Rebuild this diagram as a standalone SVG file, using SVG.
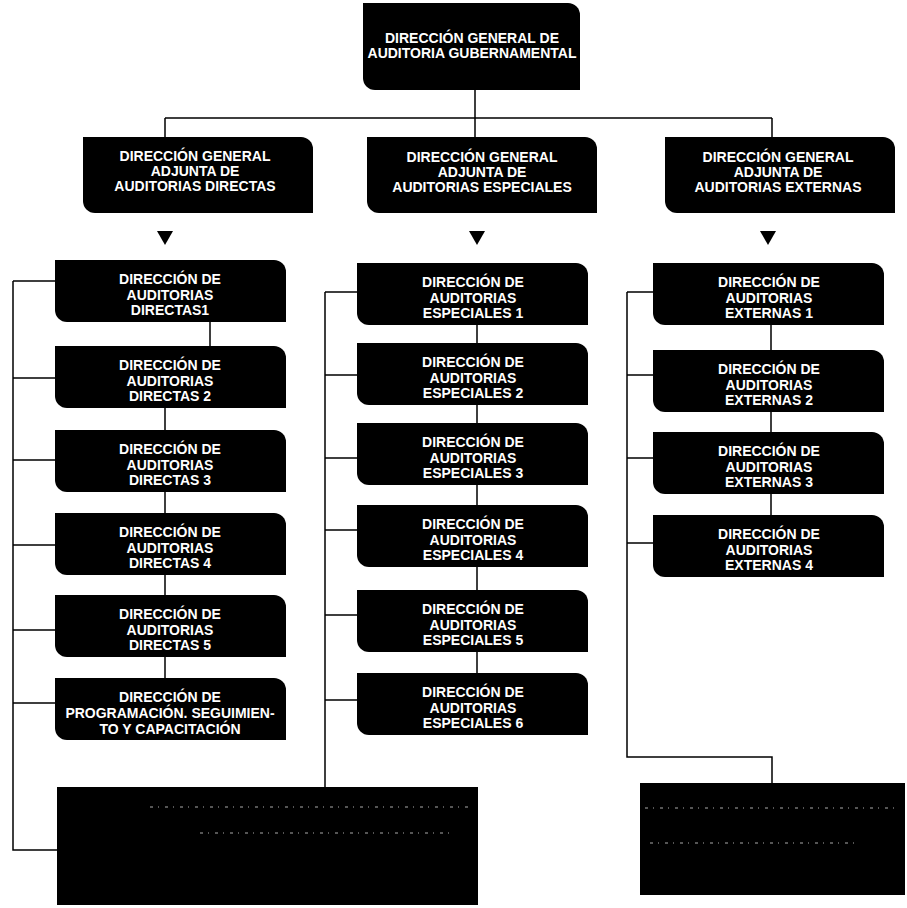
<svg xmlns="http://www.w3.org/2000/svg" xmlns:xlink="http://www.w3.org/1999/xlink" width="907" height="908" viewBox="0 0 907 908">
<style>
.bg{fill:#fff}
.box{fill:#000}
.t{font-family:"Liberation Sans",Arial,sans-serif;font-weight:bold;font-size:14px;fill:#fff;text-anchor:middle}
.c{fill:none;stroke:#000;stroke-width:1.5}
.arr{fill:#000}
.noise{fill:none;stroke:#555;stroke-width:2;stroke-dasharray:3 5 1 6}
</style>
<defs>
<path id="b1" d="M0,0 h205 a12,12 0 0 1 12,12 v75 h-205 a12,12 0 0 1 -12,-12 z"/>
<path id="b2" d="M0,0 h218 a12,12 0 0 1 12,12 v64 h-218 a12,12 0 0 1 -12,-12 z"/>
<path id="b3" d="M0,0 h219 a12,12 0 0 1 12,12 v50 h-219 a12,12 0 0 1 -12,-12 z"/>
</defs>
<rect class="bg" x="0" y="0" width="907" height="908"/>

<g id="connectors">
<path class="c" d="M475,90 V118 M165,118 H772 M165,118 V137 M475,118 V137 M772,118 V137"/>
<path class="c" d="M210,322 V346 M165,408 V430 M165,492 V513 M165,575 V595 M165,657 V678"/>
<path class="c" d="M13,281 V850 H57 M13,281 H55 M13,378 H55 M13,460 H55 M13,545 H55 M13,630 H55 M13,703 H55"/>
<path class="c" d="M477,325 V343 M477,405 V423 M477,485 V505 M477,567 V590 M477,652 V673"/>
<path class="c" d="M325,292 V787 M325,292 H357 M325,375 H357 M325,458 H357 M325,530 H357 M325,615 H357 M325,700 H357"/>
<path class="c" d="M771,325 V350 M771,412 V432 M771,494 V515"/>
<path class="c" d="M627,292 V757 H772 V783 M627,292 H653 M627,375 H653 M627,458 H653 M627,543 H653"/>
<polygon class="arr" points="157,231 173,231 165,245"/>
<polygon class="arr" points="469,231 485,231 477,245"/>
<polygon class="arr" points="760,231 776,231 768,245"/>
</g>

<g id="n-dgag">
<use href="#b1" x="363" y="3" class="box"/>
<text class="t" x="472" y="43">DIRECCIÓN GENERAL DE</text>
<text class="t" x="472" y="58">AUDITORIA GUBERNAMENTAL</text>
</g>

<g id="n-dgad">
<use href="#b2" x="83" y="137" class="box"/>
<text class="t" x="195" y="161">DIRECCIÓN GENERAL</text>
<text class="t" x="195" y="176">ADJUNTA DE</text>
<text class="t" x="195" y="191">AUDITORIAS DIRECTAS</text>
</g>
<g id="n-dgae">
<use href="#b2" x="367" y="137" class="box"/>
<text class="t" x="482" y="162">DIRECCIÓN GENERAL</text>
<text class="t" x="482" y="177">ADJUNTA DE</text>
<text class="t" x="482" y="192">AUDITORIAS ESPECIALES</text>
</g>
<g id="n-dgax">
<use href="#b2" x="665" y="137" class="box"/>
<text class="t" x="778" y="162">DIRECCIÓN GENERAL</text>
<text class="t" x="778" y="177">ADJUNTA DE</text>
<text class="t" x="778" y="192">AUDITORIAS EXTERNAS</text>
</g>

<g id="n-d1">
<use href="#b3" x="55" y="260" class="box"/>
<text class="t" x="170" y="284">DIRECCIÓN DE</text>
<text class="t" x="170" y="300">AUDITORIAS</text>
<text class="t" x="170" y="315">DIRECTAS1</text>
</g>
<g id="n-d2">
<use href="#b3" x="55" y="346" class="box"/>
<text class="t" x="170" y="370">DIRECCIÓN DE</text>
<text class="t" x="170" y="386">AUDITORIAS</text>
<text class="t" x="170" y="401">DIRECTAS 2</text>
</g>
<g id="n-d3">
<use href="#b3" x="55" y="430" class="box"/>
<text class="t" x="170" y="454">DIRECCIÓN DE</text>
<text class="t" x="170" y="470">AUDITORIAS</text>
<text class="t" x="170" y="485">DIRECTAS 3</text>
</g>
<g id="n-d4">
<use href="#b3" x="55" y="513" class="box"/>
<text class="t" x="170" y="537">DIRECCIÓN DE</text>
<text class="t" x="170" y="553">AUDITORIAS</text>
<text class="t" x="170" y="568">DIRECTAS 4</text>
</g>
<g id="n-d5">
<use href="#b3" x="55" y="595" class="box"/>
<text class="t" x="170" y="619">DIRECCIÓN DE</text>
<text class="t" x="170" y="635">AUDITORIAS</text>
<text class="t" x="170" y="650">DIRECTAS 5</text>
</g>
<g id="n-dp">
<use href="#b3" x="55" y="678" class="box"/>
<text class="t" x="170" y="702">DIRECCIÓN DE</text>
<text class="t" x="170" y="718">PROGRAMACIÓN. SEGUIMIEN-</text>
<text class="t" x="170" y="734">TO Y CAPACITACIÓN</text>
</g>

<g id="n-e1">
<use href="#b3" x="357" y="263" class="box"/>
<text class="t" x="473" y="287">DIRECCIÓN DE</text>
<text class="t" x="473" y="303">AUDITORIAS</text>
<text class="t" x="473" y="318">ESPECIALES 1</text>
</g>
<g id="n-e2">
<use href="#b3" x="357" y="343" class="box"/>
<text class="t" x="473" y="367">DIRECCIÓN DE</text>
<text class="t" x="473" y="383">AUDITORIAS</text>
<text class="t" x="473" y="398">ESPECIALES 2</text>
</g>
<g id="n-e3">
<use href="#b3" x="357" y="423" class="box"/>
<text class="t" x="473" y="447">DIRECCIÓN DE</text>
<text class="t" x="473" y="463">AUDITORIAS</text>
<text class="t" x="473" y="478">ESPECIALES 3</text>
</g>
<g id="n-e4">
<use href="#b3" x="357" y="505" class="box"/>
<text class="t" x="473" y="529">DIRECCIÓN DE</text>
<text class="t" x="473" y="545">AUDITORIAS</text>
<text class="t" x="473" y="560">ESPECIALES 4</text>
</g>
<g id="n-e5">
<use href="#b3" x="357" y="590" class="box"/>
<text class="t" x="473" y="614">DIRECCIÓN DE</text>
<text class="t" x="473" y="630">AUDITORIAS</text>
<text class="t" x="473" y="645">ESPECIALES 5</text>
</g>
<g id="n-e6">
<use href="#b3" x="357" y="673" class="box"/>
<text class="t" x="473" y="697">DIRECCIÓN DE</text>
<text class="t" x="473" y="713">AUDITORIAS</text>
<text class="t" x="473" y="728">ESPECIALES 6</text>
</g>

<g id="n-x1">
<use href="#b3" x="653" y="263" class="box"/>
<text class="t" x="769" y="287">DIRECCIÓN DE</text>
<text class="t" x="769" y="303">AUDITORIAS</text>
<text class="t" x="769" y="318">EXTERNAS 1</text>
</g>
<g id="n-x2">
<use href="#b3" x="653" y="350" class="box"/>
<text class="t" x="769" y="374">DIRECCIÓN DE</text>
<text class="t" x="769" y="390">AUDITORIAS</text>
<text class="t" x="769" y="405">EXTERNAS 2</text>
</g>
<g id="n-x3">
<use href="#b3" x="653" y="432" class="box"/>
<text class="t" x="769" y="456">DIRECCIÓN DE</text>
<text class="t" x="769" y="472">AUDITORIAS</text>
<text class="t" x="769" y="487">EXTERNAS 3</text>
</g>
<g id="n-x4">
<use href="#b3" x="653" y="515" class="box"/>
<text class="t" x="769" y="539">DIRECCIÓN DE</text>
<text class="t" x="769" y="555">AUDITORIAS</text>
<text class="t" x="769" y="570">EXTERNAS 4</text>
</g>

<g id="n-bottom-left">
<rect class="box" x="57" y="787" width="421" height="118"/>
<path class="noise" d="M150,807 H470 M200,833 H450"/>
</g>
<g id="n-bottom-right">
<rect class="box" x="640" y="783" width="265" height="112"/>
<path class="noise" d="M645,808 H900 M650,843 H860"/>
</g>
</svg>
